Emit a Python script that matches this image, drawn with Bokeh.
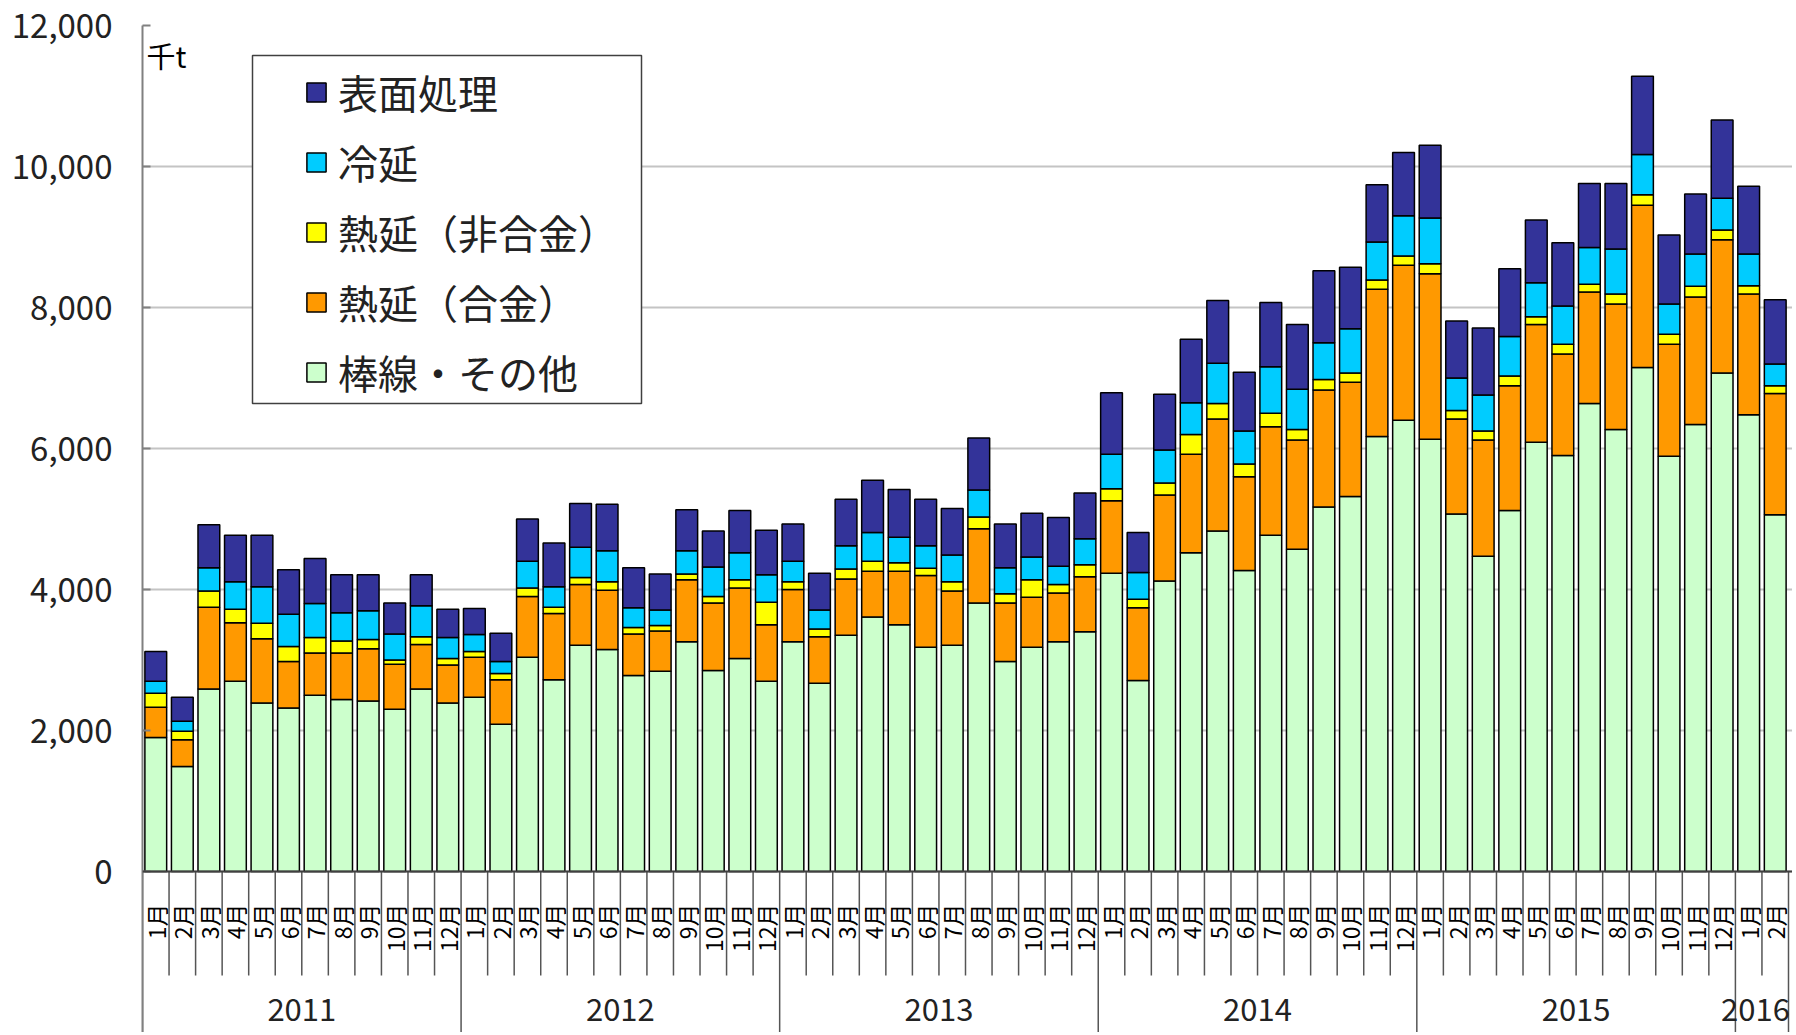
import math
from bokeh.plotting import figure
from bokeh.models import (ColumnDataSource, FixedTicker, NumeralTickFormatter, Range1d,
                          Legend, LegendItem, Label, Span, BoxAnnotation)
from bokeh.core.properties import value
from bokeh.embed import file_html
from bokeh.resources import INLINE

# ---------------- data ----------------
years = ["2011", "2012", "2013", "2014", "2015", "2016"]
months_in_year = [12, 12, 12, 12, 12, 2]
month_names = ["1月", "2月", "3月", "4月", "5月", "6月",
               "7月", "8月", "9月", "10月", "11月", "12月"]

series_names = ["棒線・その他", "熱延（合金）", "熱延（非合金）", "冷延", "表面処理"]
series_colors = ["#CCFFCC", "#FF9900", "#FFFF00", "#00CCFF", "#333399"]

bar_wire = [1900, 1490, 2590, 2700, 2390, 2320, 2500, 2440, 2420, 2300, 2590, 2390,
            2470, 2090, 3040, 2720, 3210, 3150, 2780, 2840, 3260, 2850, 3020, 2700,
            3260, 2670, 3350, 3610, 3500, 3180, 3210, 3810, 2980, 3180, 3260, 3400,
            4230, 2710, 4120, 4520, 4830, 4270, 4770, 4570, 5170, 5320, 6170, 6400,
            6130, 5070, 4470, 5120, 6090, 5900, 6640, 6270, 7150, 5890, 6340, 7070,
            6480, 5060]
hot_alloy = [430, 380, 1160, 830, 910, 660, 600, 660, 740, 640, 630, 540,
             570, 630, 860, 940, 860, 840, 590, 570, 880, 960, 1000, 800,
             740, 660, 800, 650, 760, 1020, 770, 1050, 830, 710, 690, 780,
             1030, 1030, 1220, 1400, 1590, 1330, 1540, 1550, 1660, 1620, 2090, 2200,
             2350, 1350, 1650, 1770, 1670, 1440, 1580, 1780, 2300, 1590, 1810, 1890,
             1710, 1720]
hot_nonalloy = [200, 120, 230, 190, 220, 210, 220, 170, 130, 60, 110, 90,
                80, 90, 120, 90, 100, 120, 90, 80, 80, 90, 120, 320,
                110, 110, 140, 140, 120, 100, 130, 170, 130, 250, 120, 170,
                170, 120, 170, 280, 220, 180, 190, 150, 150, 130, 130, 130,
                140, 120, 130, 140, 110, 140, 110, 140, 150, 140, 150, 140,
                120, 110]
cold = [170, 140, 330, 390, 520, 460, 480, 400, 410, 370, 440, 300,
        240, 170, 380, 290, 430, 440, 280, 220, 330, 420, 380, 390,
        290, 270, 330, 410, 360, 320, 380, 380, 370, 320, 260, 370,
        490, 380, 470, 450, 570, 470, 660, 570, 520, 630, 540, 570,
        650, 460, 510, 560, 480, 540, 520, 640, 570, 430, 460, 450,
        450, 310]
surface = [420, 340, 610, 660, 730, 630, 640, 540, 510, 440, 440, 400,
           370, 400, 600, 620, 620, 660, 570, 510, 580, 510, 600, 630,
           530, 520, 660, 740, 680, 660, 660, 740, 620, 620, 690, 650,
           870, 570, 790, 900, 890, 830, 910, 920, 1020, 870, 810, 900,
           1030, 810, 950, 960, 890, 900, 910, 930, 1110, 980, 850, 1110,
           960, 910]

y_ticks = [0, 2000, 4000, 6000, 8000, 10000, 12000]
unit_label = "千t"

# ---------------- layout plan (pixels) ----------------
FIG_W, FIG_H = 1792, 1032
BORDER_L, BORDER_T = 142, 25
FRAME_W = FIG_W - BORDER_L
FRAME_H = FIG_H - BORDER_T
ZERO_PX = 846                      # px from frame top to y=0
Y_MAX = 12000
upp = Y_MAX / ZERO_PX              # data units per pixel (vertical)
Y_MIN = -(FRAME_H - ZERO_PX) * upp
CAT_PX = 1646 / 62                 # pixels per month slot
n = len(bar_wire)
X_MAX = FRAME_W / CAT_PX

month_labels = []
for yr, cnt in zip(years, months_in_year):
    month_labels += month_names[:cnt]
xs = [i + 0.5 for i in range(n)]

src = ColumnDataSource(dict(x=xs, s0=bar_wire, s1=hot_alloy, s2=hot_nonalloy,
                            s3=cold, s4=surface))

p = figure(width=FIG_W, height=FIG_H, output_backend="svg", toolbar_location=None,
           x_range=Range1d(0, X_MAX), y_range=Range1d(Y_MIN, Y_MAX),
           x_axis_type=None, min_border_left=BORDER_L, min_border_right=0,
           min_border_top=BORDER_T, min_border_bottom=0)
p.outline_line_color = None
p.background_fill_color = "white"

# y axis
ax = p.yaxis[0]
ax.ticker = FixedTicker(ticks=y_ticks)
ax.formatter = NumeralTickFormatter(format="0,0")
ax.major_label_text_font = "Noto Sans CJK JP"
ax.major_label_text_font_size = "33px"
ax.major_label_text_color = "#222222"
ax.major_label_standoff = 30
ax.major_tick_in = 8
ax.major_tick_out = 0
ax.minor_tick_line_color = None
ax.axis_line_color = "#808080"
ax.axis_line_width = 2
ax.major_tick_line_color = "#808080"
ax.major_tick_line_width = 2
p.ygrid.grid_line_color = "#c4c4c4"
p.ygrid.grid_line_width = 2

# category boundary lines below the axis
month_line_len = 104 * upp
bx, by0, by1 = [], [], []
starts = [0]
for cnt in months_in_year:
    starts.append(starts[-1] + cnt)
for b in range(n + 1):
    bx.append(b)
    by0.append(0)
    by1.append(Y_MIN if b in starts else -month_line_len)
p.segment(x0=bx, y0=by0, x1=bx, y1=by1, line_color="#555555", line_width=1.5)

# stacked bars
bars = p.vbar_stack(["s0", "s1", "s2", "s3", "s4"], x="x", width=0.82, source=src,
                    fill_color=series_colors, line_color="black", line_width=1.5)

p.add_layout(Span(location=0, dimension="width", line_color="#404040", line_width=2))

# month labels (vertical)
p.text(x=xs, y=[-32 * upp] * n, text=month_labels, angle=math.pi / 2,
       text_align="right", text_baseline="middle",
       text_font=value("Noto Sans CJK JP"), text_font_size="23px", text_color="black")

# year labels (kept inside the frame at the right edge)
half_w_units = 37 / CAT_PX
year_x = [min((starts[i] + starts[i + 1]) / 2, X_MAX - half_w_units)
          for i in range(len(years))]
p.text(x=year_x, y=[-138 * upp] * len(years), text=years,
       text_align="center", text_baseline="middle",
       text_font=value("Noto Sans CJK JP"), text_font_size="31px", text_color="#222222")

# unit label
p.add_layout(Label(x=0, y=Y_MAX, x_offset=4, y_offset=-8, text=unit_label,
                   text_baseline="top", text_align="left",
                   text_font="Noto Sans CJK JP", text_font_size="29px", text_color="black"))

# legend frame (white box) then legend entries on top
p.add_layout(BoxAnnotation(left=252, right=641, top=55, bottom=403,
                           left_units="canvas", right_units="canvas",
                           top_units="canvas", bottom_units="canvas",
                           fill_color="white", fill_alpha=1.0,
                           line_color="#404040", line_width=1.5, line_alpha=1.0))

items = [LegendItem(label=series_names[idx], renderers=[bars[idx]]) for idx in [4, 3, 2, 1, 0]]
LEG_ROWS_H = 5 * 58 + 4 * 12
legend = Legend(items=items, location=(162, FIG_H - 63 - LEG_ROWS_H), orientation="vertical",
                padding=0, spacing=12, glyph_width=24, glyph_height=24,
                label_standoff=10, label_width=280,
                label_text_font="Noto Sans CJK JP", label_text_font_size="40px",
                label_text_color="#222222",
                border_line_color=None, background_fill_alpha=0.0, margin=0)
p.add_layout(legend)

open("out.html", "w").write(file_html(p, INLINE))
